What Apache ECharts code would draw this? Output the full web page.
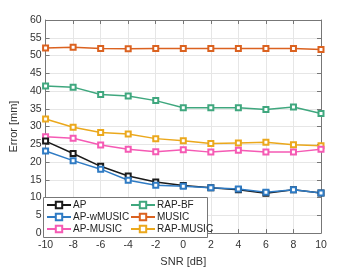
<!DOCTYPE html>
<html><head><meta charset="utf-8">
<script src="https://cdn.jsdelivr.net/npm/echarts@6/dist/echarts.min.js"></script>
<style>html,body{margin:0;padding:0;background:#fff}#c{width:350px;height:272px}</style>
</head><body><div id="c"></div>
<script>
const snr = [-10,-8,-6,-4,-2,0,2,4,6,8,10];
const xTicks = [-10,-8,-6,-4,-2,0,2,4,6,8,10];
const yTicks = [0,5,10,15,20,25,30,35,40,45,50,55,60];
const seriesNames = ['AP','AP-wMUSIC','AP-MUSIC','RAP-BF','MUSIC','RAP-MUSIC'];
const AP        = [25.9,22.4,18.8,16.1,14.4,13.4,12.8,12.2,11.2,12.2,11.3];
const AP_wMUSIC = [23.1,20.4,18.0,14.9,13.5,13.2,12.8,12.4,11.5,12.2,11.3];
const AP_MUSIC  = [27.1,26.7,24.8,23.6,22.9,23.5,22.8,23.3,22.8,22.8,23.6];
const RAP_BF    = [41.4,41.1,39.0,38.6,37.3,35.3,35.3,35.3,34.8,35.5,33.7];
const MUSIC     = [52.1,52.3,52.0,51.9,52.0,52.0,52.0,52.0,52.0,52.0,51.7];
const RAP_MUSIC = [32.1,29.8,28.3,27.9,26.6,26.0,25.2,25.4,25.6,24.9,24.6];
const values = [AP,AP_wMUSIC,AP_MUSIC,RAP_BF,MUSIC,RAP_MUSIC];
const colors = ['#1a1a1a','#2f7bc4','#f55ab4','#3fa77e','#db6220','#eba81c'];
const drawOrder = [4,3,5,2,0,1];

const font = 'Liberation Sans, Arial, sans-serif';
const chart = echarts.init(document.getElementById('c'), null, {renderer:'canvas'});
const series = drawOrder.map(i => ({
  name: seriesNames[i], type:'line', xAxisIndex:0, yAxisIndex:0,
  data: snr.map((x,k)=>[x, values[i][k]]),
  symbol:'emptyRect', symbolSize:5,
  lineStyle:{width:1.5,color:colors[i]},
  itemStyle:{color:colors[i],borderColor:colors[i],borderWidth:1.2},
  animation:false
}));
const axisLbl = {color:'#333',fontSize:10.5,fontFamily:font};
const legText = {color:'#222',fontSize:10,fontFamily:font,lineHeight:12,padding:[0,0,0,-3]};
chart.setOption({
  animation:false,
  grid:{left:43,right:29,top:20,bottom:33},
  xAxis:[
    {type:'value',min:-10,max:10,interval:2,position:'bottom',
     name:'SNR [dB]',nameLocation:'middle',nameGap:20,
     nameTextStyle:{color:'#333',fontSize:11,fontFamily:font},
     axisLine:{onZero:false,lineStyle:{color:'#777',width:1}},
     axisTick:{inside:true,length:4,lineStyle:{color:'#777'}},
     axisLabel:Object.assign({margin:7},axisLbl),
     splitLine:{show:true,lineStyle:{color:'#e6e6e6',width:1}}},
    {type:'value',min:-10,max:10,interval:2,position:'top',
     axisLine:{onZero:false,lineStyle:{color:'#777',width:1}},
     axisTick:{inside:true,length:4,lineStyle:{color:'#777'}},
     axisLabel:{show:false},splitLine:{show:false}}
  ],
  yAxis:[
    {type:'value',min:0,max:60,interval:5,position:'left',
     name:'Error [mm]',nameLocation:'middle',nameGap:15,nameRotate:90,
     nameTextStyle:{color:'#333',fontSize:11,fontFamily:font},
     axisLine:{onZero:false,show:true,lineStyle:{color:'#777',width:1}},
     axisTick:{show:true,inside:true,length:4,lineStyle:{color:'#777'}},
     axisLabel:Object.assign({margin:4},axisLbl),
     splitLine:{show:true,lineStyle:{color:'#e6e6e6',width:1}}},
    {type:'value',min:0,max:60,interval:5,position:'right',
     axisLine:{onZero:false,show:true,lineStyle:{color:'#777',width:1}},
     axisTick:{show:true,inside:true,length:4,lineStyle:{color:'#777'}},
     axisLabel:{show:false},splitLine:{show:false}}
  ],
  legend:[
    {data:seriesNames.slice(0,3),orient:'vertical',left:46,top:199,padding:0,
     itemWidth:24,itemHeight:8,itemGap:0,textStyle:legText},
    {data:seriesNames.slice(3,6),orient:'vertical',left:130,top:199,padding:0,
     itemWidth:24,itemHeight:8,itemGap:0,textStyle:legText}
  ],
  graphic:[{type:'rect',left:43,top:197,z:3,shape:{width:164,height:40},
    style:{fill:'#fff',stroke:'#777',lineWidth:1}}],
  series: series
});
</script></body></html>
